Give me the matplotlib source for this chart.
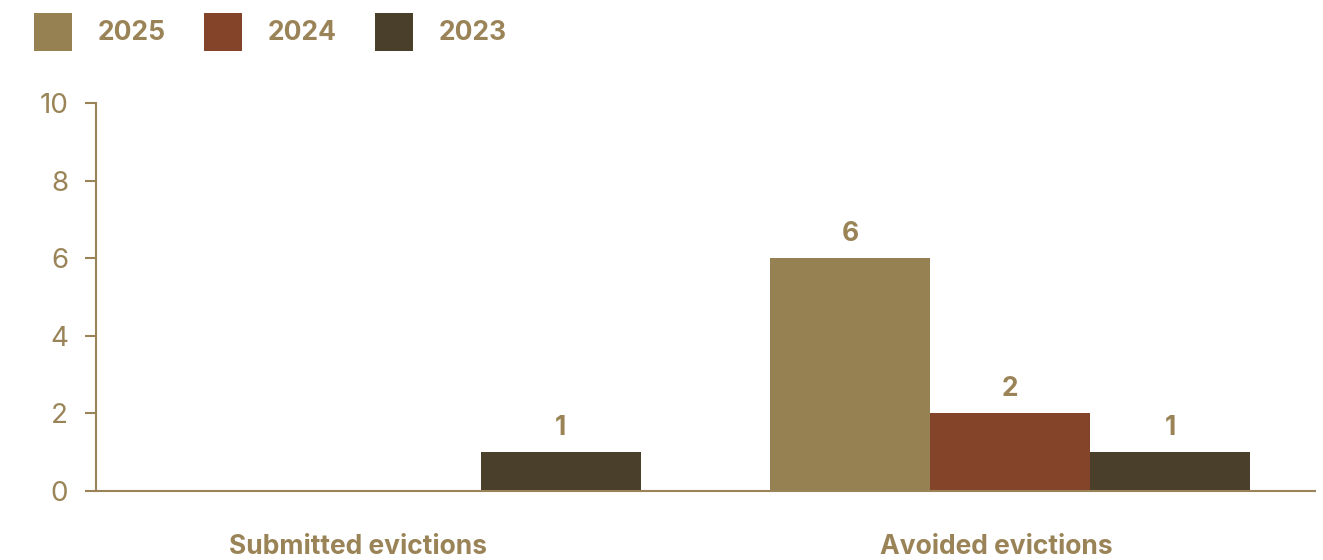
import numpy as np
import matplotlib.pyplot as plt
import matplotlib.transforms as mtransforms
from matplotlib.patches import Patch

# eviction counts per category, one list per year
categories = ["Submitted evictions", "Avoided evictions"]
years = ["2025", "2024", "2023"]
values_2025 = [0, 6]
values_2024 = [0, 2]
values_2023 = [1, 1]

colors = ["#968153", "#83442A", "#4A3F2A"]
text_color = "#9A8457"

plt.rcParams['font.family'] = ['Inter', 'DejaVu Sans']

fig = plt.figure(figsize=(13.23, 5.6), dpi=100)
ax = fig.add_axes([0.0726, 0.1232, 0.9214, 0.6929])

x = np.arange(len(categories))
width = 0.2625
series = [values_2025, values_2024, values_2023]

for i, (vals, col) in enumerate(zip(series, colors)):
    offset = (i - 1) * width
    bars = ax.bar(x + offset, vals, width, color=col)
    # label only the bars that have a value
    for b, v in zip(bars, vals):
        if v > 0:
            ax.annotate(str(v), (b.get_x() + b.get_width() / 2, v),
                        xytext=(0, 8), textcoords="offset points",
                        ha="center", va="bottom", fontsize=19,
                        fontweight="bold", color=text_color)

ax.set_xlim(-0.5, 1.5)
ax.set_ylim(0, 10)
ax.set_yticks(range(0, 11, 2))
ax.set_xticks(x)
ax.set_xticklabels(categories, fontsize=19, fontweight="bold", color=text_color)
ax.tick_params(axis="x", length=0, pad=31)
ax.tick_params(axis="y", length=8, width=1.5, color=text_color,
               labelcolor=text_color, labelsize=20, pad=12)

# nudge the category labels a little to the left
for lbl, dx in zip(ax.get_xticklabels(), [-43, -14]):
    lbl.set_transform(lbl.get_transform() + mtransforms.Affine2D().translate(dx, 0))

for s in ["top", "right"]:
    ax.spines[s].set_visible(False)
for s in ["left", "bottom"]:
    ax.spines[s].set_color(text_color)
    ax.spines[s].set_linewidth(1.5)

handles = [Patch(facecolor=c) for c in colors]
leg = fig.legend(handles, years, loc="upper left", bbox_to_anchor=(34 / 1323, 1 - 13 / 560),
                 ncol=3, frameon=False, fontsize=19, borderpad=0, borderaxespad=0,
                 handlelength=1.44, handleheight=1.84, handletextpad=0.98,
                 columnspacing=1.45)
for t in leg.get_texts():
    t.set_color(text_color)
    t.set_fontweight("bold")

fig.savefig("out.png", dpi=100)
